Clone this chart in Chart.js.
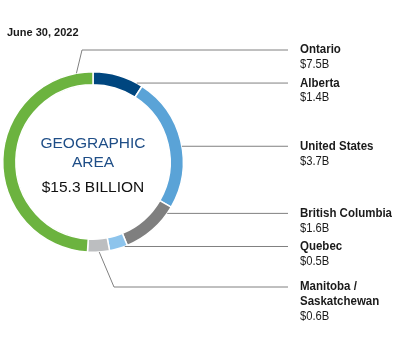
<!DOCTYPE html>
<html>
<head>
<meta charset="utf-8">
<style>
  html, body { margin: 0; padding: 0; background: #ffffff; }
  #wrap { width: 400px; height: 337px; position: relative; }
</style>
<script src="https://cdn.jsdelivr.net/npm/chart.js@4.4.0/dist/chart.umd.min.js"></script>
</head>
<body>
<div id="wrap"><canvas id="c" width="400" height="337"></canvas></div>
<script>
// Portfolio by geographic area, clockwise from 12 o'clock
const regions = ['Alberta', 'United States', 'British Columbia', 'Quebec', 'Manitoba / Saskatchewan', 'Ontario'];
const regionLines = [['Alberta'], ['United States'], ['British Columbia'], ['Quebec'], ['Manitoba /', 'Saskatchewan'], ['Ontario']];
const values = [1.4, 3.7, 1.6, 0.5, 0.6, 7.5]; // $ billions
const centerTitle = ['GEOGRAPHIC', 'AREA'];
const centerTotal = '$15.3 BILLION';
const asOfDate = 'June 30, 2022';

const sliceColors = ['#00467f', '#5aa3d7', '#7f7f7f', '#8dc4ec', '#bcbec0', '#6cb33f'];

// Leader line layout: where on the arc the line leaves (fraction of the arc),
// optional elbow point, and the label column.
const leaderLayout = {
  lineEndX: 288,
  textX: 300,
  lineHeight: 15,
  textScaleX: 0.92,
  items: [
    { at: 0.88 },
    { at: 0.54 },
    { at: 0.125 },
    { at: 0.15 },
    { at: 0.47, elbow: { x: 114, y: 287 } },
    { at: 0.94, elbow: { x: 82, y: 50 } }
  ]
};

const fmtValue = v => '$' + v.toFixed(1) + 'B';

function condensedText(ctx, text, x, y, sx) {
  ctx.save();
  ctx.translate(x, y);
  ctx.scale(sx, 1);
  ctx.fillText(text, 0, 0);
  ctx.restore();
}

const annotationsPlugin = {
  id: 'geoAnnotations',
  afterDraw(chart) {
    const ctx = chart.ctx;
    const meta = chart.getDatasetMeta(0);
    ctx.save();

    // date heading
    ctx.fillStyle = '#1a1a1a';
    ctx.font = 'bold 11px "Liberation Sans", Arial, sans-serif';
    ctx.textBaseline = 'alphabetic';
    ctx.textAlign = 'left';
    ctx.fillText(asOfDate, 7, 36);

    // leader lines and labels
    meta.data.forEach((arc, i) => {
      const p = arc.getProps(['x', 'y', 'startAngle', 'endAngle', 'outerRadius'], true);
      const cfg = leaderLayout.items[i];
      const ang = p.startAngle + (p.endAngle - p.startAngle) * cfg.at;
      const ax = p.x + Math.cos(ang) * p.outerRadius;
      const ay = p.y + Math.sin(ang) * p.outerRadius;
      let ly = ay;

      ctx.strokeStyle = '#808080';
      ctx.lineWidth = 1;
      ctx.beginPath();
      ctx.moveTo(ax, ay);
      if (cfg.elbow) {
        ctx.lineTo(cfg.elbow.x, cfg.elbow.y);
        ly = cfg.elbow.y;
      }
      ctx.lineTo(leaderLayout.lineEndX, ly);
      ctx.stroke();

      ctx.fillStyle = '#1a1a1a';
      ctx.textBaseline = 'middle';
      ctx.textAlign = 'left';
      let y = ly;
      ctx.font = 'bold 12.5px "Liberation Sans", Arial, sans-serif';
      regionLines[i].forEach(t => {
        condensedText(ctx, t, leaderLayout.textX, y, leaderLayout.textScaleX);
        y += leaderLayout.lineHeight;
      });
      ctx.font = '12.2px "Liberation Sans", Arial, sans-serif';
      condensedText(ctx, fmtValue(values[i]), leaderLayout.textX, y, leaderLayout.textScaleX);
    });

    // center text
    const c = meta.data[0];
    const cx = c.x;
    ctx.textAlign = 'center';
    ctx.textBaseline = 'alphabetic';
    ctx.fillStyle = '#1f4e87';
    ctx.font = '15.5px "Liberation Sans", Arial, sans-serif';
    ctx.fillText(centerTitle[0], cx, 147.5);
    ctx.fillText(centerTitle[1], cx, 167);
    ctx.fillStyle = '#111111';
    ctx.fillText(centerTotal, cx, 192);

    ctx.restore();
  }
};

new Chart(document.getElementById('c'), {
  type: 'doughnut',
  data: {
    labels: regions,
    datasets: [{
      data: values,
      backgroundColor: sliceColors,
      borderColor: '#ffffff',
      borderWidth: 1.5,
      hoverOffset: 0
    }]
  },
  options: {
    responsive: false,
    animation: false,
    cutout: '85.5%',
    layout: { padding: { left: 2, top: 71, right: 216, bottom: 84 } },
    plugins: {
      legend: { display: false },
      tooltip: { enabled: false }
    }
  },
  plugins: [annotationsPlugin]
});
</script>
</body>
</html>
